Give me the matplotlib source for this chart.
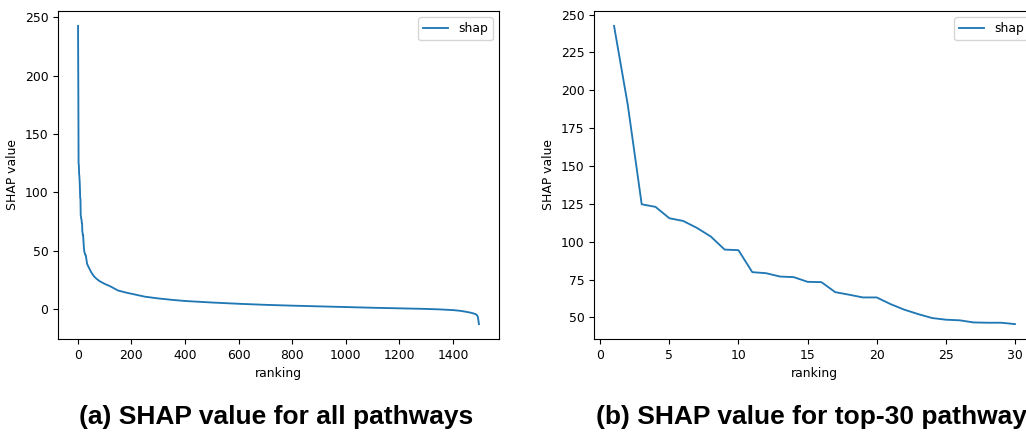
import matplotlib
matplotlib.use("Agg")
import matplotlib.pyplot as plt

# top-30 pathways (ranking 1..30)
top_rank = list(range(1, 31))
top_shap = [242.5, 190.0, 124.7, 123.0, 115.5, 113.7, 109.1, 103.4, 94.8, 94.4,
            79.9, 79.2, 77.0, 76.6, 73.5, 73.3, 66.7, 65.0, 63.2, 63.2,
            58.8, 55.1, 52.2, 49.6, 48.5, 48.1, 46.7, 46.5, 46.5, 45.6]

# remaining pathways, values read at selected rankings
tail_rank = [35, 40, 50, 60, 70, 80, 100, 120, 150, 180, 200, 250, 300, 350, 400,
             500, 600, 700, 800, 900, 1000, 1100, 1200, 1300, 1350, 1400, 1430,
             1450, 1470, 1485, 1490, 1493, 1497]
tail_shap = [38.5, 36.0, 31.5, 28.0, 25.8, 24.0, 21.5, 19.5, 15.8, 14.0, 13.0, 10.5,
             9.0, 7.8, 6.8, 5.5, 4.4, 3.5, 2.8, 2.2, 1.6, 1.0, 0.5, 0.0, -0.4, -1.0,
             -1.7, -2.5, -3.4, -4.5, -5.5, -7.0, -13.0]

all_rank = top_rank + tail_rank
all_shap = top_shap + tail_shap

fs = 8.9
plt.rcParams['font.size'] = fs
plt.rcParams['lines.linewidth'] = 1.33

fig = plt.figure(figsize=(10.26, 4.32), dpi=100)

ax1 = fig.add_axes([58 / 1026, 93 / 432, 441 / 1026, 328 / 432])
ax1.plot(all_rank, all_shap, label='shap')
ax1.set_xticks(range(0, 1401, 200))
ax1.set_yticks(range(0, 251, 50))
ax1.set_xlabel('ranking')
ax1.set_ylabel('SHAP value')
ax1.legend(loc='upper right')

ax2 = fig.add_axes([594 / 1026, 93 / 432, 441 / 1026, 328 / 432])
ax2.plot(top_rank, top_shap, label='shap')
ax2.set_xticks(range(0, 31, 5))
ax2.set_yticks(range(50, 251, 25))
ax2.set_xlabel('ranking')
ax2.set_ylabel('SHAP value')
ax2.legend(loc='upper right')

# captions under each panel
fig.text(276 / 1026, 15 / 432, '(a) SHAP value for all pathways', ha='center', va='center',
         fontsize=19, fontweight='heavy', family='Liberation Sans')
fig.text(596 / 1026, 15 / 432, '(b) SHAP value for top-30 pathways', ha='left', va='center',
         fontsize=19, fontweight='heavy', family='Liberation Sans')

fig.savefig('out.png', dpi=100)
